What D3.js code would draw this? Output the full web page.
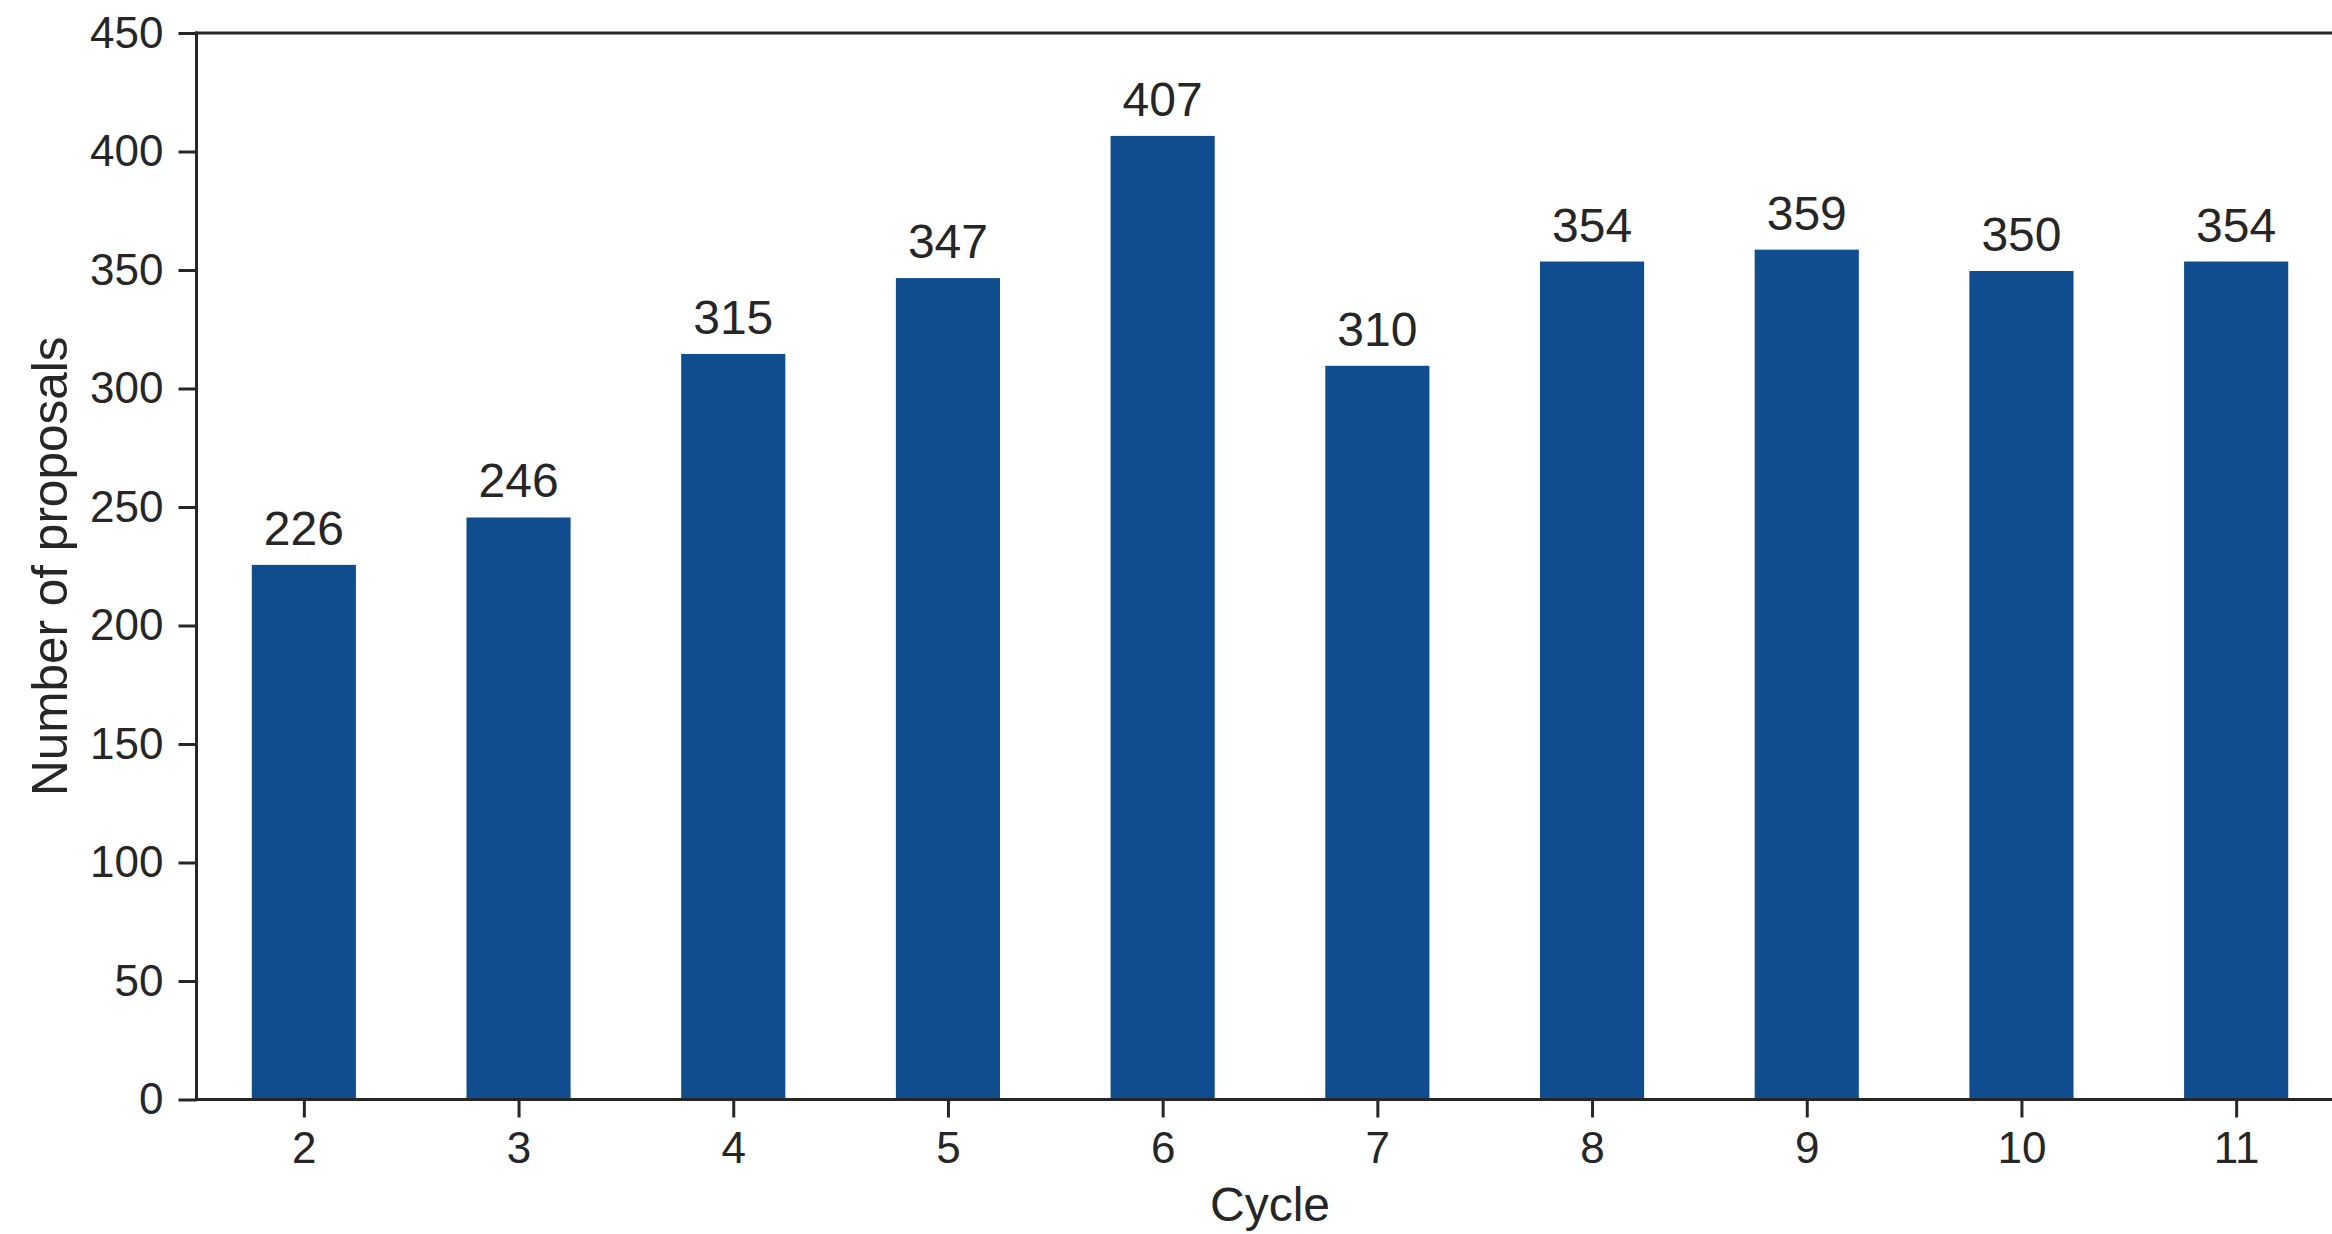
<!DOCTYPE html>
<html>
<head>
<meta charset="utf-8">
<script src="https://cdn.jsdelivr.net/npm/d3@7"></script>
<style>
  html, body { margin: 0; padding: 0; background: #fff; overflow: hidden; }
  svg { display: block; }
  text { font-family: "Liberation Sans", Arial, Helvetica, sans-serif; fill: #262626; }
</style>
</head>
<body>
<svg id="chart" width="2332" height="1234"></svg>
<script>
const cycles = ["2", "3", "4", "5", "6", "7", "8", "9", "10", "11"];
const proposals = [226, 246, 315, 347, 407, 310, 354, 359, 350, 354];
const yTicks = [0, 50, 100, 150, 200, 250, 300, 350, 400, 450];
const xLabel = "Cycle";
const yLabel = "Number of proposals";

(function () {
const plotLeft = 196.5, plotTop = 33, plotBottom = 1099.5;
const step = 214.7;
const plotRight = plotLeft + step * cycles.length;
const ink = "#262626";
const barColor = "#0f4d8f";

const svg = d3.select("#chart");

const x = d3.scalePoint().domain(cycles).range([plotLeft, plotRight]).padding(0.5);
const y = d3.scaleLinear().domain([0, 450]).range([plotBottom, plotTop]);
const bw = x.step() * 0.485;

const data = cycles.map((c, i) => ({ c, v: proposals[i] }));

// bars
svg.append("g").selectAll("rect")
  .data(data)
  .join("rect")
  .attr("x", d => x(d.c) - bw / 2)
  .attr("width", bw)
  .attr("y", d => y(d.v) + 1)
  .attr("height", d => y(0) - y(d.v) - 1)
  .attr("fill", barColor);

// value labels
svg.append("g").selectAll("text")
  .data(data)
  .join("text")
  .attr("x", d => x(d.c))
  .attr("y", d => y(d.v) - 19)
  .attr("text-anchor", "middle")
  .style("font-size", "48px")
  .text(d => d.v);

// y axis
const yAxis = d3.axisLeft(y).tickValues(yTicks).tickSize(18).tickSizeOuter(0).tickPadding(15);
const gy = svg.append("g").attr("transform", `translate(${plotLeft},0)`).call(yAxis);
gy.select(".domain").remove();
gy.selectAll(".tick line").attr("stroke", ink).attr("stroke-width", 3);
gy.selectAll(".tick text").style("font-size", "44px").style("font-family", "'Liberation Sans', Arial, sans-serif").attr("fill", ink);

// x axis
const xAxis = d3.axisBottom(x).tickSize(18).tickSizeOuter(0).tickPadding(14.5);
const gx = svg.append("g").attr("transform", `translate(0,${plotBottom})`).call(xAxis);
gx.select(".domain").remove();
gx.selectAll(".tick line").attr("stroke", ink).attr("stroke-width", 3);
gx.selectAll(".tick text").style("font-size", "44px").style("font-family", "'Liberation Sans', Arial, sans-serif").attr("fill", ink);

// spines
const spines = svg.append("g").attr("stroke", ink).attr("stroke-width", 3).attr("stroke-linecap", "square");
spines.append("line").attr("x1", plotLeft).attr("x2", plotLeft).attr("y1", plotTop).attr("y2", plotBottom);
spines.append("line").attr("x1", plotLeft).attr("x2", plotRight).attr("y1", plotBottom).attr("y2", plotBottom);
spines.append("line").attr("x1", plotLeft).attr("x2", plotRight).attr("y1", plotTop).attr("y2", plotTop);
spines.append("line").attr("x1", plotRight).attr("x2", plotRight).attr("y1", plotTop).attr("y2", plotBottom);

// axis labels
svg.append("text")
  .attr("x", (plotLeft + plotRight) / 2)
  .attr("y", 1221)
  .attr("text-anchor", "middle")
  .style("font-size", "48px")
  .text(xLabel);

svg.append("text")
  .attr("transform", `translate(67,${(plotTop + plotBottom) / 2}) rotate(-90)`)
  .attr("text-anchor", "middle")
  .style("font-size", "49.5px")
  .text(yLabel);
})();
</script>
</body>
</html>
